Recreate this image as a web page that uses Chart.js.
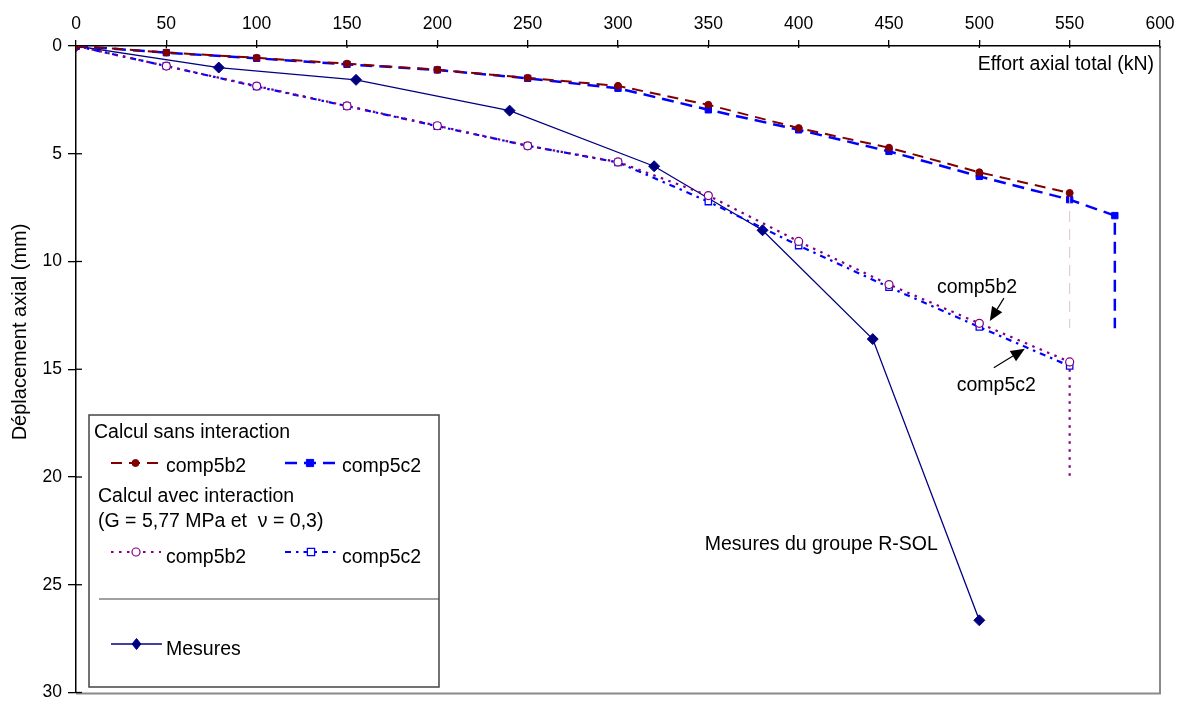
<!DOCTYPE html>
<html>
<head>
<meta charset="utf-8">
<script src="https://cdn.jsdelivr.net/npm/chart.js@4/dist/chart.umd.min.js"></script>
<style>
  html, body { margin: 0; padding: 0; background: #fff; }
  #wrap { width: 1188px; height: 709px; position: relative; }
</style>
</head>
<body>
<div id="wrap"><canvas id="c" width="1188" height="709"></canvas></div>
<script>
// ---------- DATA ----------
const xTicks = [0, 50, 100, 150, 200, 250, 300, 350, 400, 450, 500, 550, 600];
const yTicks = [0, 5, 10, 15, 20, 25, 30];

// Calcul sans interaction
const b2SansX = [0, 50, 100, 150, 200, 250, 300, 350, 400, 450, 500, 550, 550];
const b2SansY = [0, 0.30, 0.55, 0.82, 1.10, 1.48, 1.85, 2.73, 3.81, 4.72, 5.86, 6.82, 13.1];
const c2SansX = [0, 50, 100, 150, 200, 250, 300, 350, 400, 450, 500, 550, 575, 575];
const c2SansY = [0, 0.31, 0.57, 0.85, 1.11, 1.50, 1.96, 2.96, 3.89, 4.89, 6.05, 7.13, 7.87, 13.1];

// Calcul avec interaction
const b2InterX = [0, 50, 100, 150, 200, 250, 300, 350, 400, 450, 500, 550, 550];
const b2InterY = [0, 0.93, 1.86, 2.78, 3.70, 4.63, 5.38, 6.94, 9.07, 11.07, 12.87, 14.66, 20.1];
const c2InterX = [0, 50, 100, 150, 200, 250, 300, 350, 400, 450, 500, 550];
const c2InterY = [0, 0.93, 1.88, 2.79, 3.72, 4.63, 5.40, 7.22, 9.26, 11.19, 13.04, 14.85];

// Mesures
const mesX = [0, 79, 155, 240, 320, 380, 441, 500];
const mesY = [0, 1.00, 1.57, 3.00, 5.58, 8.55, 13.60, 26.65];

const xTitle = 'Effort axial total (kN)';
const yTitle = 'Déplacement axial (mm)';

// ---------- BUILD ----------
const FONT = "'Liberation Sans', Arial, sans-serif";
const pts = (xs, ys) => xs.map((x, i) => ({ x: x, y: ys[i] }));
const hideLast = (n, r) => (ctx) => ctx.dataIndex === n - 1 ? 0 : r;

const RED = '#800000', BLUE = '#0000ff', PURPLE = '#800080', NAVY = '#000080';

const datasets = [
  {
    label: 'comp5b2', data: pts(b2SansX, b2SansY),
    borderColor: RED, borderWidth: 2, borderDash: [11, 7],
    pointStyle: 'circle', pointRadius: hideLast(b2SansX.length, 3.5),
    pointBackgroundColor: RED, pointBorderColor: RED, pointBorderWidth: 1,
    segment: {
      borderColor: (ctx) => ctx.p1DataIndex === b2SansX.length - 1 ? '#dcc6c6' : undefined,
      borderWidth: (ctx) => ctx.p1DataIndex === b2SansX.length - 1 ? 1 : undefined
    }
  },
  {
    label: 'comp5c2', data: pts(c2SansX, c2SansY),
    borderColor: BLUE, borderWidth: 2.5, borderDash: [12, 7],
    pointStyle: 'rect', pointRadius: hideLast(c2SansX.length, 4.5),
    pointBackgroundColor: BLUE, pointBorderColor: BLUE, pointBorderWidth: 1
  },
  {
    label: 'comp5b2 int', data: pts(b2InterX, b2InterY),
    borderColor: PURPLE, borderWidth: 2.2, borderDash: [2.5, 5.5],
    pointStyle: 'circle', pointRadius: hideLast(b2InterX.length, 4),
    pointBackgroundColor: '#fff', pointBorderColor: PURPLE, pointBorderWidth: 1.2
  },
  {
    label: 'comp5c2 int', data: pts(c2InterX, c2InterY),
    borderColor: BLUE, borderWidth: 2.2, borderDash: [6, 5, 2.5, 5],
    pointStyle: 'rect', pointRadius: 4.5,
    pointBackgroundColor: '#fff', pointBorderColor: BLUE, pointBorderWidth: 1.3
  },
  {
    label: 'Mesures', data: pts(mesX, mesY),
    borderColor: NAVY, borderWidth: 1.3,
    pointStyle: 'rectRot', pointRadius: 5.5,
    pointBackgroundColor: NAVY, pointBorderColor: NAVY, pointBorderWidth: 1
  }
];

// annotation anchors in data coordinates
const notes = [
  { text: 'comp5b2', x: 476.5, y: 11.23, tail: [513.6, 11.7], tip: [505.8, 12.76] },
  { text: 'comp5c2', x: 487.5, y: 15.77, tail: [508.0, 14.93], tip: [525.2, 14.05] },
  { text: 'Mesures du groupe R-SOL', x: 348, y: 23.16 }
];

function arrow(ctx, x1, y1, x2, y2) {
  const a = Math.atan2(y2 - y1, x2 - x1);
  const L = 14, W = 6;
  const bx = x2 - L * Math.cos(a), by = y2 - L * Math.sin(a);
  ctx.beginPath(); ctx.moveTo(x1, y1); ctx.lineTo(bx, by);
  ctx.strokeStyle = '#000'; ctx.lineWidth = 1.2; ctx.setLineDash([]); ctx.stroke();
  ctx.beginPath();
  ctx.moveTo(x2, y2);
  ctx.lineTo(bx + W * Math.sin(a), by - W * Math.cos(a));
  ctx.lineTo(bx - W * Math.sin(a), by + W * Math.cos(a));
  ctx.closePath(); ctx.fillStyle = '#000'; ctx.fill();
}

function marker(ctx, ds, x, y) {
  const r = typeof ds.pointRadius === 'function' ? ds.pointRadius({ dataIndex: 0 }) : ds.pointRadius;
  ctx.save();
  ctx.setLineDash([]);
  ctx.fillStyle = ds.pointBackgroundColor;
  ctx.strokeStyle = ds.pointBorderColor;
  ctx.lineWidth = ds.pointBorderWidth;
  ctx.beginPath();
  if (ds.pointStyle === 'circle') ctx.arc(x, y, r, 0, Math.PI * 2);
  else if (ds.pointStyle === 'rect') { const s = r * 0.8; ctx.rect(x - s, y - s, 2 * s, 2 * s); }
  else if (ds.pointStyle === 'rectRot') { ctx.moveTo(x, y - r); ctx.lineTo(x + r * 0.8, y); ctx.lineTo(x, y + r); ctx.lineTo(x - r * 0.8, y); ctx.closePath(); }
  ctx.fill(); ctx.stroke();
  ctx.restore();
}

function sample(ctx, ds, x1, x2, y) {
  ctx.save();
  ctx.strokeStyle = ds.borderColor; ctx.lineWidth = ds.borderWidth;
  ctx.setLineDash(ds.borderDash || []);
  ctx.beginPath(); ctx.moveTo(x1, y); ctx.lineTo(x2, y); ctx.stroke();
  ctx.restore();
  marker(ctx, ds, (x1 + x2) / 2, y);
}

const decor = {
  id: 'decor',
  beforeDatasetsDraw(chart) {
    const ctx = chart.ctx, a = chart.chartArea;
    const xs = chart.scales.x, ys = chart.scales.y;
    ctx.save();
    // frame right and bottom (grey)
    ctx.strokeStyle = '#8a8a8a'; ctx.lineWidth = 2;
    ctx.beginPath(); ctx.moveTo(a.right, a.top); ctx.lineTo(a.right, a.bottom + 1);
    ctx.lineTo(a.left, a.bottom + 1); ctx.stroke();
    // inward tick stubs
    ctx.strokeStyle = '#000'; ctx.lineWidth = 1.3;
    xTicks.forEach(v => { const p = xs.getPixelForValue(v); ctx.beginPath(); ctx.moveTo(p, a.top); ctx.lineTo(p, a.top + 2); ctx.stroke(); });
    yTicks.forEach(v => { const p = ys.getPixelForValue(v); ctx.beginPath(); ctx.moveTo(a.left, p); ctx.lineTo(a.left + 6, p); ctx.stroke(); });
    ctx.restore();
  },
  afterDraw(chart) {
    const ctx = chart.ctx, a = chart.chartArea;
    const xs = chart.scales.x, ys = chart.scales.y;
    ctx.save();
    ctx.fillStyle = '#000';
    ctx.font = '19.5px ' + FONT;
    ctx.textBaseline = 'middle';
    // axis titles
    ctx.textAlign = 'right';
    ctx.fillText(xTitle, a.right - 6, a.top + 19);
    ctx.save();
    ctx.translate(20, 332); ctx.rotate(-Math.PI / 2);
    ctx.textAlign = 'center';
    ctx.font = '20px ' + FONT;
    ctx.fillText(yTitle, 0, 0);
    ctx.restore();
    // annotations
    ctx.textAlign = 'left';
    notes.forEach(n => {
      ctx.fillStyle = '#000';
      ctx.fillText(n.text, xs.getPixelForValue(n.x), ys.getPixelForValue(n.y));
      if (n.tip) arrow(ctx, xs.getPixelForValue(n.tail[0]), ys.getPixelForValue(n.tail[1]),
                            xs.getPixelForValue(n.tip[0]), ys.getPixelForValue(n.tip[1]));
    });
    // legend box
    const L = 89, T = 415, R = 439, B = 687;
    ctx.fillStyle = '#fff'; ctx.fillRect(L, T, R - L, B - T);
    ctx.strokeStyle = '#444'; ctx.lineWidth = 1.5; ctx.setLineDash([]);
    ctx.strokeRect(L, T, R - L, B - T);
    ctx.fillStyle = '#000';
    ctx.font = '19.5px ' + FONT;
    ctx.fillText('Calcul sans interaction', 94, 433);
    sample(ctx, datasets[0], 111, 160, 463); ctx.fillStyle = '#000'; ctx.fillText('comp5b2', 166, 467);
    sample(ctx, datasets[1], 285, 335, 463); ctx.fillStyle = '#000'; ctx.fillText('comp5c2', 342, 467);
    ctx.fillText('Calcul avec interaction', 98, 497);
    ctx.fillText('(G = 5,77 MPa et  \u03BD = 0,3)', 98, 522);
    sample(ctx, datasets[2], 111, 161, 552); ctx.fillStyle = '#000'; ctx.fillText('comp5b2', 166, 558);
    sample(ctx, datasets[3], 285, 337, 552); ctx.fillStyle = '#000'; ctx.fillText('comp5c2', 342, 558);
    ctx.strokeStyle = '#444'; ctx.lineWidth = 1.2;
    ctx.beginPath(); ctx.moveTo(99, 599); ctx.lineTo(R, 599); ctx.stroke();
    sample(ctx, datasets[4], 111, 162, 644); ctx.fillStyle = '#000'; ctx.fillText('Mesures', 166, 650);
    ctx.restore();
  }
};

new Chart(document.getElementById('c'), {
  type: 'line',
  data: { datasets: datasets },
  options: {
    responsive: false,
    animation: false,
    events: [],
    layout: { padding: { left: 0, right: 28, top: 0, bottom: 14 } },
    plugins: { legend: { display: false }, tooltip: { enabled: false } },
    elements: { line: { tension: 0, fill: false } },
    scales: {
      x: {
        type: 'linear', position: 'top', min: 0, max: 600,
        afterBuildTicks: (s) => { s.ticks = xTicks.map(v => ({ value: v })); },
        afterFit: (s) => { s.height = 46; },
        ticks: { color: '#000', font: { family: FONT, size: 17.5 }, padding: 5, maxRotation: 0 },
        grid: { display: true, drawOnChartArea: false, drawTicks: true, tickLength: 6, color: '#000', lineWidth: 1.3 },
        border: { display: true, color: '#000', width: 1.5 }
      },
      y: {
        type: 'linear', position: 'left', reverse: true, min: 0, max: 30,
        afterBuildTicks: (s) => { s.ticks = yTicks.map(v => ({ value: v })); },
        afterFit: (s) => { s.width = 76; },
        ticks: { color: '#000', font: { family: FONT, size: 17.5 }, padding: 6 },
        grid: { display: true, drawOnChartArea: false, drawTicks: true, tickLength: 8, color: '#000', lineWidth: 1.3 },
        border: { display: true, color: '#000', width: 1.5 }
      }
    }
  },
  plugins: [decor]
});
</script>
</body>
</html>
